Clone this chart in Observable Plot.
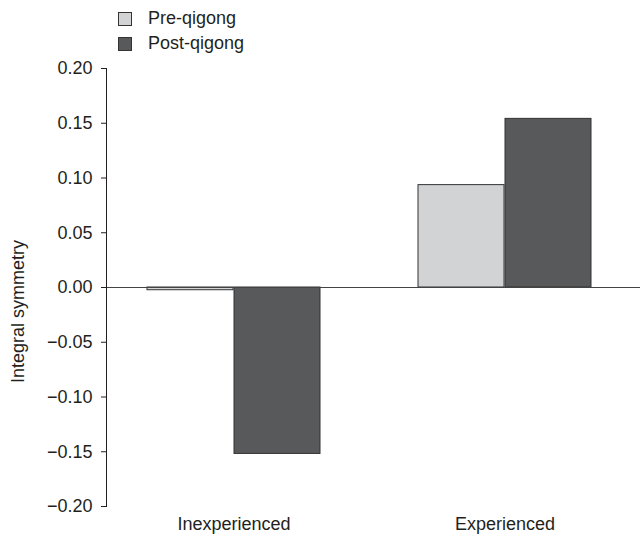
<!DOCTYPE html>
<html>
<head>
<meta charset="utf-8">
<script src="https://cdn.jsdelivr.net/npm/d3@7"></script>
<script src="https://cdn.jsdelivr.net/npm/@observablehq/plot@0.6"></script>
<style>
  html, body { margin: 0; padding: 0; background: #fff; font-family: "Liberation Sans", Arial, sans-serif; overflow: hidden; }
  #wrap { position: relative; width: 640px; height: 535px; }
  #wrap svg { display: block; position: absolute; left: 0; top: 0; }
  #legend { position: absolute; left: 118px; top: 6px; font-size: 18px; color: #231f20; z-index: 2; }
  .item { display: flex; align-items: center; height: 25px; }
  .sw { display: inline-block; width: 12px; height: 12px; border: 1px solid #333; margin-right: 16px; flex: none; }
</style>
</head>
<body>
<div id="wrap"><div id="legend"></div></div>
<script>
const groups = ["Inexperienced", "Experienced"];
const series = ["Pre-qigong", "Post-qigong"];
const preValues = [-0.0025, 0.0935];
const postValues = [-0.152, 0.154];
const yTicks = [-0.20, -0.15, -0.10, -0.05, 0.00, 0.05, 0.10, 0.15, 0.20];
const colors = ["#d2d3d5", "#58595b"];

const pre = groups.map((g, i) => ({group: g, value: preValues[i]}));
const post = groups.map((g, i) => ({group: g, value: postValues[i]}));

const fmt = d => d3.format(".2f")(d).replace("-", "\u2212");

const chart = Plot.plot({
  width: 640,
  height: 535,
  marginTop: 68,
  marginBottom: 29,
  marginLeft: 106,
  marginRight: 0,
  style: {fontFamily: "'Liberation Sans', Arial, sans-serif", fontSize: "18px", color: "#231f20", background: "#fff"},
  x: {domain: groups, range: [106, 633], paddingInner: 0.36, paddingOuter: 0.15, label: null},
  y: {domain: [-0.2, 0.2], label: null},
  marks: [
    Plot.barY(pre, {x: "group", y: "value", fill: colors[0], stroke: "#333", strokeWidth: 1, insetRight: 87}),
    Plot.barY(post, {x: "group", y: "value", fill: colors[1], stroke: "#333", strokeWidth: 1, insetLeft: 87}),
    Plot.ruleY([0], {stroke: "#444", strokeWidth: 1, insetRight: -10}),
    Plot.frame({anchor: "left", stroke: "#231f20"}),
    Plot.axisY({ticks: yTicks, tickFormat: fmt, tickSize: 5, tickPadding: 9, label: null, stroke: "#231f20", fontSize: 18}),
    Plot.axisX({tickSize: 0, tickPadding: 11, label: null, fontSize: 18}),
    Plot.text(["Integral symmetry"], {frameAnchor: "left", textAnchor: "middle", rotate: -90, dx: -88, dy: 24, fontSize: 18, fill: "#231f20"})
  ]
});
document.getElementById("wrap").appendChild(chart);

const legend = document.getElementById("legend");
series.forEach((s, i) => {
  const it = document.createElement("div");
  it.className = "item";
  const sw = document.createElement("span");
  sw.className = "sw";
  sw.style.background = colors[i];
  const t = document.createElement("span");
  t.textContent = s;
  it.appendChild(sw); it.appendChild(t);
  legend.appendChild(it);
});
</script>
</body>
</html>
